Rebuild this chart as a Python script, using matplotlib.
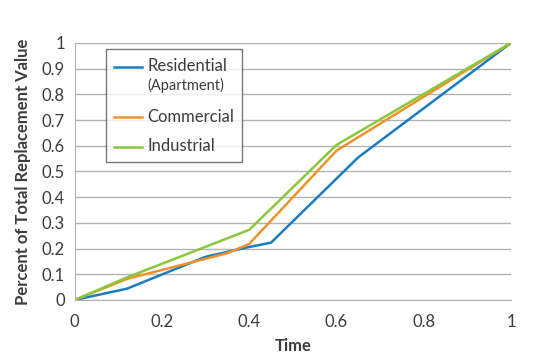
import matplotlib; matplotlib.use("Agg")
import matplotlib.pyplot as plt
from matplotlib.lines import Line2D

plt.rcParams["font.family"] = ["Lato", "DejaVu Sans"]

# data
res_x = [0, 0.12, 0.3, 0.4, 0.45, 0.65, 1.0]
res_y = [0, 0.044, 0.168, 0.206, 0.223, 0.555, 1.0]
com_x = [0, 0.12, 0.35, 0.4, 0.6, 1.0]
com_y = [0, 0.082, 0.182, 0.218, 0.581, 1.0]
ind_x = [0, 0.12, 0.4, 0.6, 1.0]
ind_y = [0, 0.088, 0.273, 0.603, 1.0]
xticks = [0, 0.2, 0.4, 0.6, 0.8, 1]
yticks = [0, 0.1, 0.2, 0.3, 0.4, 0.5, 0.6, 0.7, 0.8, 0.9, 1]

blue, orange, green = "#1a7cc1", "#f0922b", "#8cc63e"
txt = "#3c3c3c"

fig = plt.figure(figsize=(5.5, 3.64), dpi=100)
ax = fig.add_axes([0.136, 0.176, 0.793, 0.706])

ax.plot(res_x, res_y, color=blue, lw=1.8)
ax.plot(com_x, com_y, color=orange, lw=1.8)
ax.plot(ind_x, ind_y, color=green, lw=1.8)

ax.set_xlim(0, 1); ax.set_ylim(0, 1)
ax.set_xticks(xticks); ax.set_xticklabels([f"{v:g}" for v in xticks])
ax.set_yticks(yticks); ax.set_yticklabels([f"{v:g}" for v in yticks])
ax.yaxis.grid(True, color="#b3b3b3", lw=1); ax.set_axisbelow(True)
ax.tick_params(length=0, labelsize=12, colors=txt)
ax.tick_params(axis="x", pad=10); ax.tick_params(axis="y", pad=7)
for s in ["top", "right"]: ax.spines[s].set_visible(False)
for s in ["left", "bottom"]: ax.spines[s].set_color("#b3b3b3")
ax.set_xlabel("Time", fontsize=12, color=txt, fontweight="bold", labelpad=6)
ax.set_ylabel("Percent of Total Replacement Value", fontsize=12, color=txt,
              fontweight="bold", labelpad=8)

# blank entry reserves room for the "(Apartment)" sub-label
handles = [Line2D([], [], color=blue, lw=1.8), Line2D([], [], color="none"),
           Line2D([], [], color=orange, lw=1.8), Line2D([], [], color=green, lw=1.8)]
labels = ["Residential", " ", "Commercial", "Industrial"]
leg = ax.legend(handles, labels, loc="upper left", bbox_to_anchor=(0.071, 0.975),
                fontsize=12, frameon=True, fancybox=False, edgecolor="#555555",
                handlelength=1.7, handleheight=0.01, handletextpad=0.28,
                labelspacing=0.8, borderpad=0.5, borderaxespad=0)
leg.get_frame().set_linewidth(1)
for t in leg.get_texts(): t.set_color(txt)
leg.get_texts()[1].set_fontsize(0.1)
ax.annotate("(Apartment)", xy=(0, 0), xycoords=leg.get_texts()[0],
            xytext=(0, -3), textcoords="offset points", va="top", ha="left",
            fontsize=10.5, color=txt, zorder=6)

fig.savefig("out.png", dpi=100)
